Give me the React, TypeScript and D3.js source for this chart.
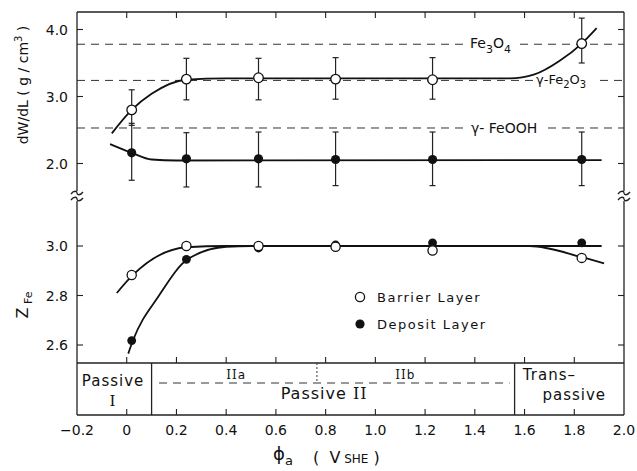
import React from "react";
import * as d3 from "d3";

// ---- data ----
const xTicks = [-0.2, 0, 0.2, 0.4, 0.6, 0.8, 1.0, 1.2, 1.4, 1.6, 1.8, 2.0];
const topTicks = [2.0, 3.0, 4.0];
const botTicks = [2.6, 2.8, 3.0];

const potentials = [0.02, 0.24, 0.53, 0.84, 1.23, 1.83];
const barrierDensity = [2.8, 3.26, 3.28, 3.26, 3.25, 3.79];
const barrierDensityHi = [3.1, 3.57, 3.57, 3.58, 3.58, 4.17];
const barrierDensityLo = [2.57, 2.95, 2.95, 2.96, 2.96, 3.5];
const depositDensity = [2.16, 2.07, 2.07, 2.06, 2.06, 2.06];
const depositDensityHi = [2.6, 2.46, 2.47, 2.47, 2.47, 2.47];
const depositDensityLo = [1.75, 1.65, 1.65, 1.67, 1.67, 1.67];

const barrierZ = [2.883, 3.0, 3.0, 2.997, 2.982, 2.952];
const depositZ = [2.618, 2.946, 2.992, 3.004, 3.013, 3.013];

// fitted curves
const barrierDensityCurve: [number, number][] = [[-0.06, 2.45], [0.02, 2.8], [0.1, 3.04], [0.24, 3.25], [0.4, 3.27], [1.54, 3.27], [1.64, 3.33], [1.74, 3.53], [1.83, 3.79], [1.89, 4.02]];
const depositDensityCurve: [number, number][] = [[-0.067, 2.29], [0.02, 2.16], [0.1, 2.06], [0.2, 2.045], [1.91, 2.05]];
const barrierZCurve: [number, number][] = [[-0.04, 2.81], [0.025, 2.883], [0.24, 2.995], [0.4, 3.0], [1.62, 3.0], [1.83, 2.955], [1.92, 2.93]];
const depositZCurve: [number, number][] = [[0.006, 2.565], [0.025, 2.618], [0.13, 2.8], [0.245, 2.946], [0.4, 2.997], [0.5, 3.0], [1.91, 3.0]];

const refLevels = [3.78, 3.24, 2.53];

const FONT = "'DejaVu Sans', sans-serif";

export default function App() {
  const L = 77, R = 624, T = 12, PB = 363, B = 415;
  const x = d3.scaleLinear().domain([-0.2, 2.0]).range([L, R]);
  const yT = d3.scaleLinear().domain([2.0, 4.0]).range([163.5, 29.5]);
  const yB = d3.scaleLinear().domain([2.6, 3.0]).range([345, 246]);

  const lineT = d3.line<[number, number]>().x(d => x(d[0])).y(d => yT(d[1])).curve(d3.curveMonotoneX);
  const lineB = d3.line<[number, number]>().x(d => x(d[0])).y(d => yB(d[1])).curve(d3.curveMonotoneX);

  const breakY = 196;
  const wave = (cx: number, cy: number) =>
    `M${cx - 6},${cy + 1} C${cx - 3},${cy - 3} ${cx},${cy - 2} ${cx},${cy} S${cx + 3},${cy + 3} ${cx + 6},${cy - 1}`;

  const stroke = "#222";
  const inner = xTicks.slice(1, -1);

  const errBar = (px: number, hi: number, lo: number, key: string) => (
    <g key={key} stroke={stroke} strokeWidth={1.2}>
      <line x1={px} x2={px} y1={yT(hi)} y2={yT(lo)} />
      <line x1={px - 3} x2={px + 3} y1={yT(hi)} y2={yT(hi)} />
      <line x1={px - 3} x2={px + 3} y1={yT(lo)} y2={yT(lo)} />
    </g>
  );

  // dashed ref lines with gaps for labels
  const refGaps: [number, number][][] = [
    [[466, 520]],
    [[534, 600]],
    [[468, 548]],
  ];

  return (
    <svg width={637} height={471} style={{ position: "absolute", left: 0, top: 0, background: "#fff" }} fontFamily={FONT}>
      <rect x={0} y={0} width={637} height={471} fill="#fff" />
      {/* frame */}
      <g stroke={stroke} strokeWidth={1.3} fill="none">
        <line x1={L} x2={R} y1={T} y2={T} />
        <line x1={L} x2={R} y1={PB} y2={PB} />
        <line x1={L} x2={R} y1={B} y2={B} />
        <line x1={L} x2={L} y1={T} y2={breakY - 5} />
        <line x1={L} x2={L} y1={breakY + 5} y2={B} />
        <line x1={R} x2={R} y1={T} y2={breakY - 5} />
        <line x1={R} x2={R} y1={breakY + 5} y2={B} />
        <path d={wave(L, breakY - 3)} />
        <path d={wave(L, breakY + 3)} />
        <path d={wave(R, breakY - 3)} />
        <path d={wave(R, breakY + 3)} />
        <line x1={x(0.1)} x2={x(0.1)} y1={PB} y2={B} />
        <line x1={x(1.56)} x2={x(1.56)} y1={PB} y2={B} />
      </g>
      {/* ticks */}
      <g stroke={stroke} strokeWidth={1.1}>
        {inner.map(v => (
          <g key={"xt" + v}>
            <line x1={x(v)} x2={x(v)} y1={T} y2={T + 6} />
            <line x1={x(v)} x2={x(v)} y1={PB} y2={PB - 6} />
            <line x1={x(v)} x2={x(v)} y1={B} y2={B - 6} />
          </g>
        ))}
        {topTicks.map(v => (
          <g key={"yt" + v}>
            <line x1={L} x2={L + 6} y1={yT(v)} y2={yT(v)} />
            <line x1={R} x2={R - 6} y1={yT(v)} y2={yT(v)} />
          </g>
        ))}
        {botTicks.map(v => (
          <g key={"yb" + v}>
            <line x1={L} x2={L + 6} y1={yB(v)} y2={yB(v)} />
            <line x1={R} x2={R - 6} y1={yB(v)} y2={yB(v)} />
          </g>
        ))}
      </g>
      {/* tick labels */}
      <g fontSize={14} fill="#111">
        {xTicks.map(v => (
          <text key={"xl" + v} x={x(v)} y={435} textAnchor="middle">
            {v === 0 ? "0" : (v < 0 ? "\u2212" : "") + Math.abs(v).toFixed(1)}
          </text>
        ))}
        {topTicks.map(v => (
          <text key={"tl" + v} x={68} y={yT(v) + 5} textAnchor="end">{v.toFixed(1)}</text>
        ))}
        {botTicks.map(v => (
          <text key={"bl" + v} x={68} y={yB(v) + 5} textAnchor="end">{v.toFixed(1)}</text>
        ))}
      </g>
      {/* reference dashed lines */}
      <g stroke="#333" strokeWidth={1} strokeDasharray="8,6">
        {refLevels.map((lv, i) => {
          const segs: [number, number][] = [];
          let start = L;
          refGaps[i].forEach(([a, b]) => { segs.push([start, a]); start = b; });
          segs.push([start, R]);
          return segs.map(([a, b], j) => (
            <line key={"rl" + i + "_" + j} x1={a} x2={b} y1={yT(lv)} y2={yT(lv)} />
          ));
        })}
      </g>
      <g fontSize={14} fill="#111">
        <text x={470} y={yT(3.78) + 4}>Fe<tspan fontSize={11} dy={5}>3</tspan><tspan dy={-5}>O</tspan><tspan fontSize={11} dy={5}>4</tspan></text>
        <text x={536} y={yT(3.24) + 4} fontSize={13}>γ-Fe<tspan fontSize={10} dy={4}>2</tspan><tspan dy={-4}>O</tspan><tspan fontSize={10} dy={4}>3</tspan></text>
        <text x={471} y={yT(2.53) + 5}>γ- FeOOH</text>
      </g>
      {/* curves */}
      <g fill="none" stroke="#111" strokeWidth={1.8}>
        <path d={lineT(barrierDensityCurve) || ""} />
        <path d={lineT(depositDensityCurve) || ""} />
        <path d={lineB(barrierZCurve) || ""} />
        <path d={lineB(depositZCurve) || ""} />
      </g>
      {/* error bars */}
      {potentials.map((p, i) => errBar(x(p), barrierDensityHi[i], barrierDensityLo[i], "eb" + i))}
      {potentials.map((p, i) => errBar(x(p), depositDensityHi[i], depositDensityLo[i], "ed" + i))}
      {/* markers */}
      {potentials.map((p, i) => (
        <circle key={"db" + i} cx={x(p)} cy={yT(barrierDensity[i])} r={4.8} fill="#fff" stroke="#111" strokeWidth={1.3} />
      ))}
      {potentials.map((p, i) => (
        <circle key={"dd" + i} cx={x(p)} cy={yT(depositDensity[i])} r={4.6} fill="#111" />
      ))}
      {potentials.map((p, i) => (
        <circle key={"zd" + i} cx={x(p)} cy={yB(depositZ[i])} r={4.4} fill="#111" />
      ))}
      {potentials.map((p, i) => (
        <circle key={"zb" + i} cx={x(p)} cy={yB(barrierZ[i])} r={4.6} fill="#fff" stroke="#111" strokeWidth={1.3} />
      ))}
      {/* legend */}
      <g fontSize={13} fill="#111" letterSpacing={1.5}>
        <circle cx={360} cy={297} r={4.6} fill="#fff" stroke="#111" strokeWidth={1.3} />
        <text x={377} y={302}>Barrier Layer</text>
        <circle cx={360} cy={324} r={4.6} fill="#111" />
        <text x={377} y={329}>Deposit Layer</text>
      </g>
      {/* region band */}
      <g stroke="#333" strokeWidth={1} fill="none">
        <line x1={x(0.13)} x2={x(1.54)} y1={383} y2={383} strokeDasharray="8,6" />
        <line x1={x(0.765)} x2={x(0.765)} y1={PB} y2={383} strokeDasharray="2,2" />
      </g>
      <g fontSize={15} fill="#111" textAnchor="middle" letterSpacing={1}>
        <text x={x(-0.055)} y={386}>Passive</text>
        <text x={x(-0.055)} y={406} fontFamily="'DejaVu Serif', serif">I</text>
        <text x={x(0.794)} y={399} fontSize={16}>Passive <tspan fontFamily="'DejaVu Serif', serif">II</tspan></text>
        <text x={x(0.44)} y={379} fontSize={12} fontFamily="'DejaVu Serif', serif">II<tspan fontFamily={FONT}>a</tspan></text>
        <text x={x(1.12)} y={379} fontSize={12} fontFamily="'DejaVu Serif', serif">II<tspan fontFamily={FONT}>b</tspan></text>
        <text x={x(1.70)} y={380}>Trans–</text>
        <text x={x(1.80)} y={400}>passive</text>
      </g>
      {/* axis titles */}
      <text transform="translate(28,85) rotate(-90)" textAnchor="middle" fontSize={14} fill="#111">
        dW/dL ( g / cm<tspan fontSize={10} dy={-6}>3</tspan><tspan dy={6}> )</tspan>
      </text>
      <text transform="translate(28,305) rotate(-90)" textAnchor="middle" fontSize={16} fill="#111">
        Z<tspan fontSize={11} dy={4}> Fe</tspan>
      </text>
      <text x={273} y={460} fontSize={18} fill="#111">
        ϕ<tspan fontSize={13} dy={5}>a</tspan>
      </text>
      <text x={313} y={463} fontSize={16} fill="#111" xmlSpace="preserve">
        (  V<tspan fontSize={12}> SHE</tspan><tspan> )</tspan>
      </text>
    </svg>
  );
}
